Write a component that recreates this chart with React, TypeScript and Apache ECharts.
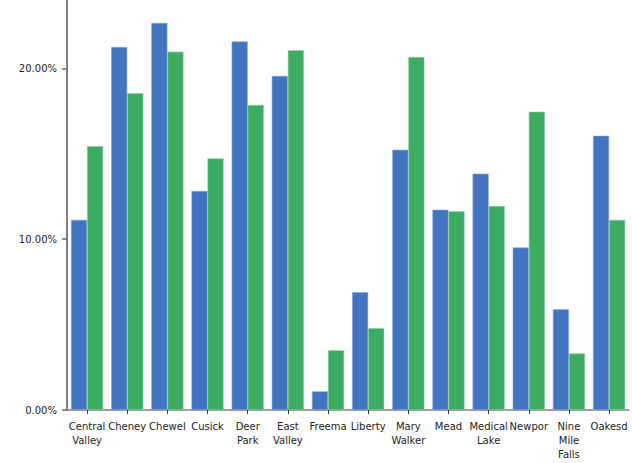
import React, { useEffect, useRef } from "react";
import * as echarts from "echarts";

const categories = [
  "Central Valley",
  "Cheney",
  "Chewelah",
  "Cusick",
  "Deer Park",
  "East Valley",
  "Freeman",
  "Liberty",
  "Mary Walker",
  "Mead",
  "Medical Lake",
  "Newport",
  "Nine Mile Falls",
  "Oakesdale",
];

const seriesA = [
  0.1113, 0.2125, 0.2266, 0.1282, 0.2157, 0.1955, 0.0109, 0.069, 0.1523, 0.1172,
  0.1383, 0.0951, 0.059, 0.1605,
];

const seriesB = [
  0.1544, 0.1855, 0.2098, 0.1473, 0.1785, 0.2106, 0.035, 0.0479, 0.2066, 0.1164,
  0.1194, 0.1746, 0.0331, 0.1113,
];

const yTicks = [0, 0.1, 0.2];

export default function App() {
  const ref = useRef<HTMLDivElement>(null);

  useEffect(() => {
    if (!ref.current) return;
    const chart = echarts.init(ref.current, null, { renderer: "svg" });
    const font = "DejaVu Sans";
    chart.setOption({
      animation: false,
      backgroundColor: "#ffffff",
      grid: { left: 67, right: 0, top: 0, bottom: 53, containLabel: false },
      xAxis: {
        type: "category",
        data: categories,
        axisLine: { show: true, lineStyle: { color: "#808080", width: 1.5 } },
        axisTick: {
          show: true,
          alignWithLabel: true,
          interval: 0,
          length: 4,
          lineStyle: { color: "#333333", width: 1 },
        },
        axisLabel: {
          interval: 0,
          margin: 9,
          fontFamily: font,
          fontSize: 10,
          lineHeight: 14,
          color: "#222222",
          width: 40,
          overflow: "truncate",
          ellipsis: "",
          formatter: (v: string) => v.split(" ").join("\n"),
        },
      },
      yAxis: {
        type: "value",
        min: 0,
        max: 0.24,
        interval: 0.1,
        splitLine: { show: false },
        axisLine: { show: true, lineStyle: { color: "#808080", width: 2 } },
        axisTick: {
          show: true,
          length: 5,
          customValues: yTicks,
          lineStyle: { color: "#666666", width: 1.5 },
        },
        axisLabel: {
          customValues: yTicks,
          margin: 10,
          fontFamily: font,
          fontSize: 10,
          color: "#222222",
          formatter: (v: number) => (v * 100).toFixed(2) + "%",
        },
      },
      series: [
        {
          type: "bar",
          data: seriesA,
          barGap: "0%",
          barCategoryGap: "20%",
          itemStyle: { color: "#4374C1", borderColor: "#86A5DA", borderWidth: 0.6 },
        },
        {
          type: "bar",
          data: seriesB,
          barGap: "0%",
          barCategoryGap: "20%",
          itemStyle: { color: "#3CAC62", borderColor: "#8ACE9F", borderWidth: 0.6 },
        },
      ],
    });
    return () => chart.dispose();
  }, []);

  return (
    <div
      ref={ref}
      style={{ position: "fixed", left: 0, top: 0, width: 632, height: 463 }}
    />
  );
}
